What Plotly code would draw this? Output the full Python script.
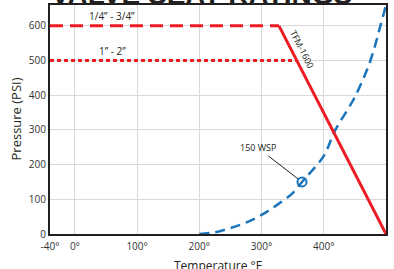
import plotly.graph_objects as go

# Data
small_label = "1/4” - 3/4”"
small_x = [-40, 328]
small_y = [600, 600]
large_label = "1” - 2”"
large_x = [-40, 357]
large_y = [500, 500]
tfm_x = [328, 500]
tfm_y = [600, 0]
steam_t = [200, 225, 250, 275, 300, 325, 350, 365, 375, 400, 418, 450, 475, 491, 500]
steam_p = [0, 5, 17, 33, 55, 84, 118, 150, 170, 225, 298, 395, 500, 600, 660]
wsp_t = [365]
wsp_p = [150]
x_ticks = [-40, 0, 100, 200, 300, 400, 500]
x_labels = ["-40°", "0°", "100°", "200°", "300°", "400°", "500°"]
y_ticks = [0, 100, 200, 300, 400, 500, 600]

RED = "#ED1C24"
BLUE = "#1B75BC"
FONT = "Open Sans"
DARK = "#231F20"

fig = go.Figure()
fig.add_trace(go.Scatter(x=steam_t, y=steam_p, mode="lines", line=dict(color=BLUE, width=2.5, dash="10px,6px", shape="spline"), hoverinfo="skip"))
fig.add_trace(go.Scatter(x=small_x, y=small_y, mode="lines", line=dict(color=RED, width=3, dash="13px,7px"), hoverinfo="skip"))
fig.add_trace(go.Scatter(x=large_x, y=large_y, mode="lines", line=dict(color=RED, width=3, dash="4px,3px"), hoverinfo="skip"))
fig.add_trace(go.Scatter(x=tfm_x, y=tfm_y, mode="lines", line=dict(color=RED, width=3), hoverinfo="skip"))
fig.add_trace(go.Scatter(x=wsp_t, y=wsp_p, mode="markers", marker=dict(symbol="circle-open", size=9, color=BLUE, line=dict(width=2, color=BLUE)), hoverinfo="skip"))

fig.add_annotation(x=0.452, y=1, xref="paper", yref="paper", text="<b>VALVE SEAT RATINGS</b>", showarrow=False,
                   yanchor="middle", yshift=11, font=dict(family="Liberation Sans", size=28, color=DARK))
fig.add_annotation(x=59, y=600, text=small_label, showarrow=False, yshift=10, font=dict(family=FONT, size=10, color=DARK))
fig.add_annotation(x=60, y=500, text=large_label, showarrow=False, yshift=10, font=dict(family=FONT, size=10, color=DARK))
fig.add_annotation(x=366, y=533, text="TFM-1600", showarrow=False, textangle=63, font=dict(family=FONT, size=9, color=DARK))
fig.add_annotation(x=wsp_t[0], y=wsp_p[0], text="150 WSP", showarrow=True, arrowhead=0, arrowwidth=1, arrowcolor=DARK,
                   ax=-44, ay=-34, standoff=5, font=dict(family=FONT, size=9, color=DARK))
# axis titles
fig.add_annotation(x=0.5, y=0, xref="paper", yref="paper", text="Temperature °F", showarrow=False,
                   yanchor="middle", yshift=-31, font=dict(family=FONT, size=12, color=DARK))
fig.add_annotation(x=0, y=0.5, xref="paper", yref="paper", text="Pressure (PSI)", showarrow=False, textangle=-90,
                   xanchor="center", xshift=-35, font=dict(family=FONT, size=13, color=DARK))

fig.update_layout(
    width=394, height=269,
    margin=dict(l=50, r=8, t=5, b=35),
    paper_bgcolor="white", plot_bgcolor="white",
    showlegend=False,
    font=dict(family=FONT, size=10, color="#333"),
)
fig.update_xaxes(range=[-40, 500], tickvals=x_ticks, ticktext=x_labels, showgrid=True, gridcolor="#d9d9d9", gridwidth=1,
                 showline=True, linecolor=DARK, linewidth=2, mirror=True, zeroline=False, ticks="", ticklabelstandoff=2,
                 automargin=False)
fig.update_yaxes(range=[0, 660], tickvals=y_ticks, showgrid=True, gridcolor="#d9d9d9", gridwidth=1,
                 showline=True, linecolor=DARK, linewidth=2, mirror=True, zeroline=False, ticks="",
                 automargin=False)

fig.write_html("out.html", config={"displayModeBar": False}, post_script="document.body.style.margin='0';")
